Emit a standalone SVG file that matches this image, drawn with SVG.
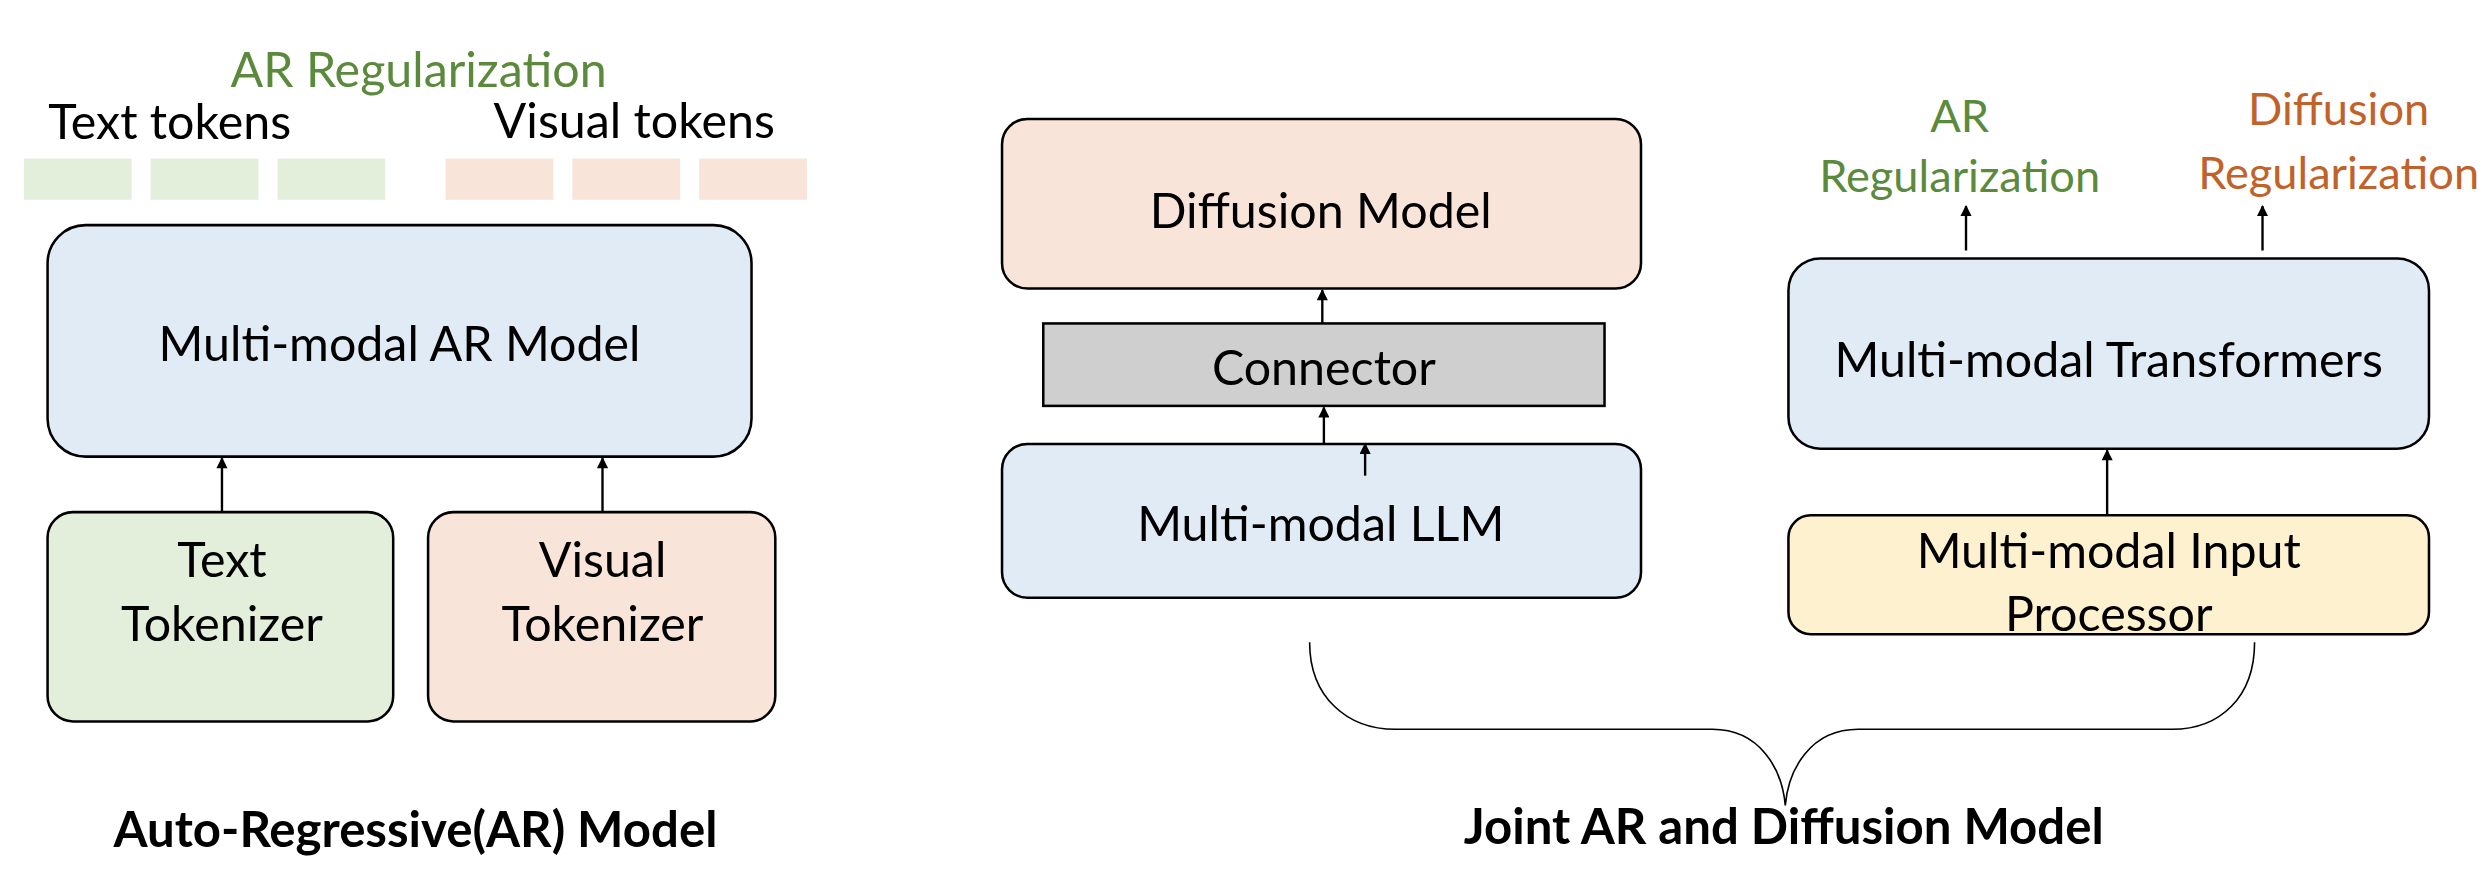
<svg xmlns="http://www.w3.org/2000/svg" width="2486" height="880" viewBox="0 0 2486 880">
<style>
text{font-family:Lato,"Open Sans",sans-serif;font-size:30.5px;text-anchor:middle;dominant-baseline:central;fill:#000}
.b{stroke:#000;stroke-width:1.6}
.t{font-weight:bold;font-size:31px}
.g{fill:#5b8a3c}.o{fill:#c0622a}
.r{font-size:28.5px}
.c line{stroke:#000;stroke-width:1.5}
</style>
<defs><marker id="a" viewBox="0 0 10 10" refX="9" refY="5" markerWidth="8" markerHeight="7" orient="auto" markerUnits="userSpaceOnUse"><path d="M0,0L10,5L0,10z"/></marker></defs>
<rect width="2486" height="880" fill="#fff"/>
<g transform="scale(1.5855)">
<g id="tokens">
<text x="264" y="43" class="g">AR Regularization</text>
<text x="107" y="76">Text tokens</text>
<text x="400" y="75">Visual tokens</text>
<rect x="15" y="100" width="68" height="26" fill="#e3efdb"/><rect x="95" y="100" width="68" height="26" fill="#e3efdb"/><rect x="175" y="100" width="68" height="26" fill="#e3efdb"/>
<rect x="281" y="100" width="68" height="26" fill="#f8e4d8"/><rect x="361" y="100" width="68" height="26" fill="#f8e4d8"/><rect x="441" y="100" width="68" height="26" fill="#f8e4d8"/>
</g>
<g id="ar"><rect x="30" y="142" width="444" height="146" rx="24" fill="#e1ebf5" class="b"/><text x="252" y="216">Multi-modal AR Model</text></g>
<g id="tt"><rect x="30" y="323" width="218" height="132" rx="16" fill="#e3efdb" class="b"/><text x="140" y="352">Text</text><text x="140" y="392">Tokenizer</text></g>
<g id="vt"><rect x="270" y="323" width="219" height="132" rx="16" fill="#f8e4d8" class="b"/><text x="380" y="352">Visual</text><text x="380" y="392">Tokenizer</text></g>
<text x="262" y="522" class="t">Auto-Regressive(AR) Model</text>
<g id="diff"><rect x="632" y="75" width="403" height="107" rx="16" fill="#f8e4d8" class="b"/><text x="833" y="132">Diffusion Model</text></g>
<g id="conn"><rect x="658" y="204" width="354" height="52" fill="#d0cfd0" class="b"/><text x="835" y="231">Connector</text></g>
<g id="llm"><rect x="632" y="280" width="403" height="97" rx="16" fill="#e1ebf5" class="b"/><text x="833" y="329">Multi-modal LLM</text></g>
<g id="tf"><rect x="1128" y="163" width="404" height="120" rx="20" fill="#e1ebf5" class="b"/><text x="1330" y="226">Multi-modal Transformers</text></g>
<g id="ip"><rect x="1128" y="325" width="404" height="75" rx="14" fill="#fdf1cf" class="b"/><text x="1330" y="346">Multi-modal Input</text><text x="1330" y="386">Processor</text></g>
<g id="labels"><text x="1236" y="72" class="g r">AR</text><text x="1236" y="110" class="g r">Regularization</text><text x="1475" y="68" class="o r">Diffusion</text><text x="1475" y="108" class="o r">Regularization</text></g>
<g class="c">
<line x1="140" y1="323" x2="140" y2="289" marker-end="url(#a)"/>
<line x1="380" y1="323" x2="380" y2="289" marker-end="url(#a)"/>
<line x1="834" y1="204" x2="834" y2="183" marker-end="url(#a)"/>
<line x1="835" y1="280" x2="835" y2="257" marker-end="url(#a)"/>
<line x1="861" y1="300" x2="861" y2="280" marker-end="url(#a)"/>
<line x1="1329" y1="325" x2="1329" y2="284" marker-end="url(#a)"/>
<line x1="1240" y1="158" x2="1240" y2="130" marker-end="url(#a)"/>
<line x1="1427" y1="158" x2="1427" y2="130" marker-end="url(#a)"/>
<path d="M826,405 C826,440 850,460 880,460 L1080,460 C1110,460 1124,485 1126,508 C1128,485 1142,460 1172,460 L1370,460 C1400,460 1422,440 1422,405" fill="none" stroke="#000" stroke-width="1"/>
</g>
<text x="1125" y="520" class="t">Joint AR and Diffusion Model</text>
</g>
</svg>
